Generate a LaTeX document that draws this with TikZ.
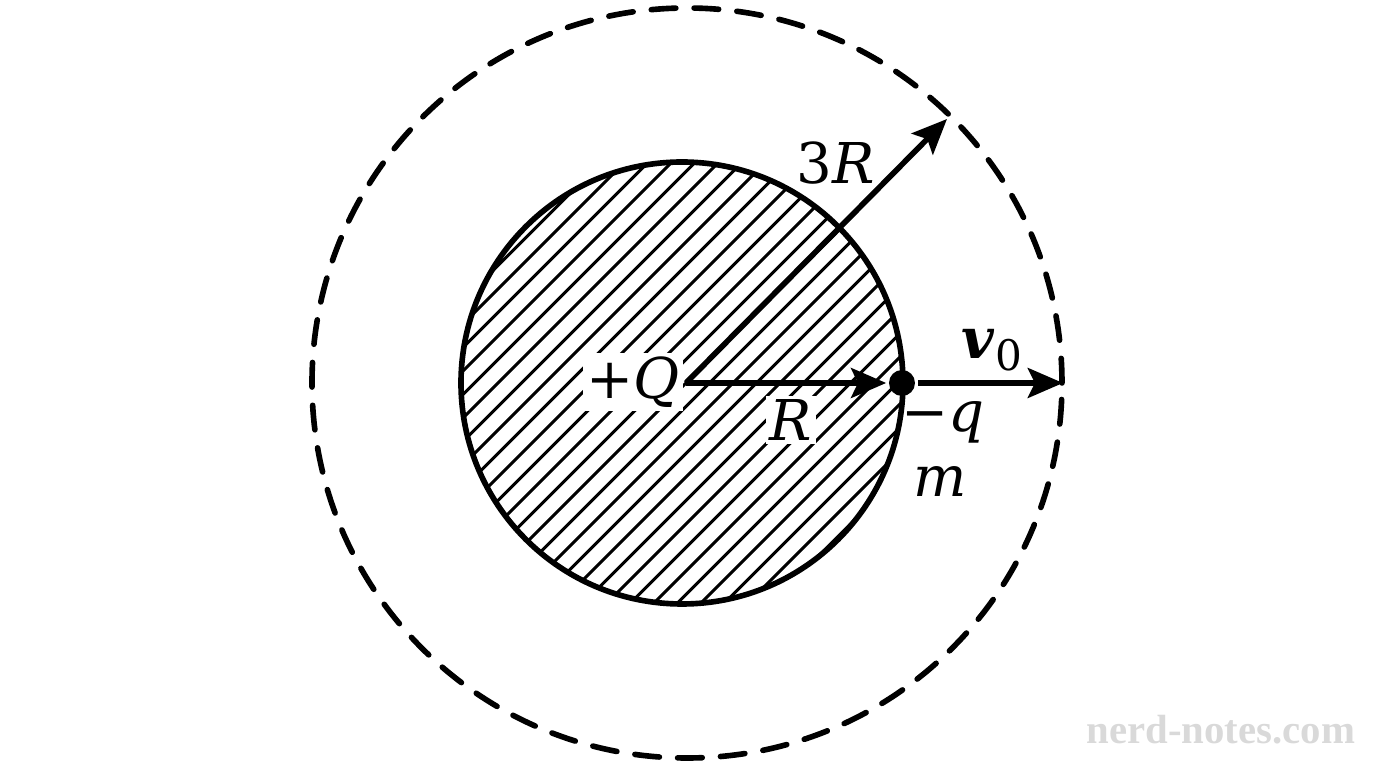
\documentclass[tikz,border=0pt]{standalone}
\usepackage{fontspec}
\setmainfont{DejaVu Serif}
\newfontfamily\wmfont{Liberation Serif}
\usepackage{tikz}
\usetikzlibrary{arrows.meta}

\begin{document}
\begin{tikzpicture}[line width=1.6pt, >={Stealth[length=10pt,width=8.5pt,inset=2pt]},
    lbl/.style={inner sep=1pt,font=\fontsize{16}{19}\selectfont}]
  \useasboundingbox (-6.86,-3.85) rectangle (6.90,3.83);
  % sphere with hatching
  \begin{scope}
    \clip (-0.04,0) circle (2.21);
    \foreach \k in {-24,...,24}
      \draw[line width=0.85pt] ({\k*0.235-3},-3) -- ({\k*0.235+3},3);
  \end{scope}
  \draw (-0.04,0) circle (2.21);
  % orbit 3R
  \draw[dash pattern=on 7pt off 5.2pt, line cap=round] (0.01,0) circle (3.75);
  \coordinate (O) at (0,0);
  \coordinate (e) at (3.77,0);
  \coordinate (f) at (2.61,2.64);
  \node [circle,fill,inner sep=0pt,minimum size=0.26cm] (p) at (2.16,0) {};
  \node [lbl,fill=white] (q) at (-0.53,0.01) {+\textit{Q}};
  \node [lbl,fill=white] (r) at (1.05,-0.37) {\textit{R}};
  \node [lbl] (tr) at (1.5,2.2) {3\textit{R}};
  \node [lbl] (v) at (3.06,0.33) {\textbf{\textit{v}}\raisebox{-0.4ex}{\fontsize{12}{14}\selectfont 0}};
  \node [lbl] (mq) at (2.57,-0.39) {−\textit{q}};
  \node [lbl] (m) at (2.54,-0.99) {\textit{m}};
  \draw[->] (O) -- (f);
  \draw[->] (O) -- (p.west);
  \draw[->] (p) -- (e);
  \node [text=black!15,font=\wmfont\fontsize{11.6}{14}\selectfont\bfseries] (wm) at (5.35,-3.47) {nerd-notes.com};
\end{tikzpicture}
\end{document}
